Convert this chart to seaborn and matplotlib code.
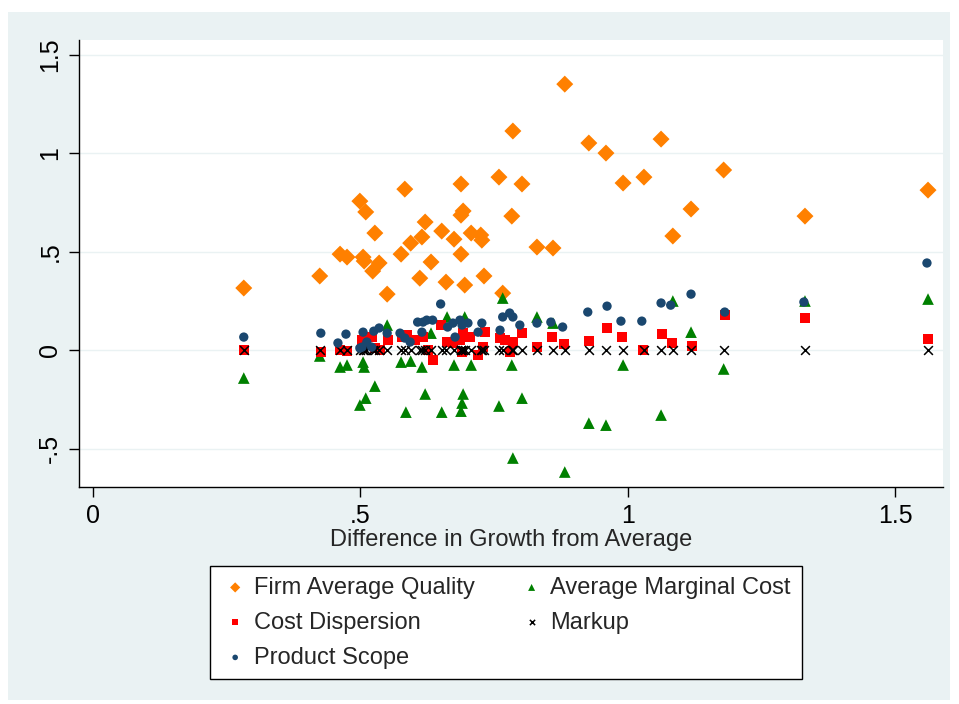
import matplotlib
matplotlib.use("Agg")
import matplotlib.pyplot as plt
import seaborn as sns
import numpy as np
from matplotlib.patches import Rectangle

# values (x = difference in growth from average)
quality_x = [0.282, 0.424, 0.462, 0.475, 0.499, 0.505, 0.507, 0.510, 0.523, 0.527,
             0.535, 0.550, 0.576, 0.583, 0.594, 0.611, 0.615, 0.621, 0.632, 0.652,
             0.660, 0.675, 0.688, 0.688, 0.692, 0.688, 0.695, 0.707, 0.725, 0.727,
             0.731, 0.759, 0.766, 0.783, 0.785, 0.802, 0.830, 0.860, 0.882, 0.927,
             0.959, 0.991, 1.030, 1.062, 1.084, 1.118, 1.179, 1.331, 1.561]
quality_y = [0.315, 0.376, 0.487, 0.472, 0.756, 0.472, 0.452, 0.701, 0.401, 0.594,
             0.442, 0.284, 0.487, 0.817, 0.543, 0.365, 0.574, 0.650, 0.447, 0.604,
             0.345, 0.563, 0.843, 0.685, 0.706, 0.487, 0.330, 0.594, 0.584, 0.558,
             0.376, 0.878, 0.289, 0.680, 1.112, 0.843, 0.523, 0.518, 1.350, 1.051,
             1.000, 0.848, 0.878, 1.071, 0.579, 0.716, 0.914, 0.680, 0.812]

mc_x = [0.282, 0.424, 0.462, 0.475, 0.499, 0.505, 0.507, 0.510, 0.527, 0.550,
        0.576, 0.585, 0.594, 0.615, 0.621, 0.632, 0.652, 0.662, 0.675, 0.688,
        0.690, 0.692, 0.695, 0.707, 0.759, 0.766, 0.783, 0.785, 0.802, 0.830,
        0.860, 0.882, 0.927, 0.959, 0.991, 1.062, 1.084, 1.118, 1.179, 1.331, 1.561]
mc_y = [-0.142, -0.030, -0.086, -0.076, -0.279, -0.061, -0.086, -0.244, -0.183, 0.127,
        -0.061, -0.315, -0.056, -0.086, -0.223, 0.086, -0.315, 0.168, -0.076, -0.310,
        -0.269, -0.223, 0.168, -0.076, -0.284, 0.264, -0.076, -0.548, -0.244, 0.168,
        0.137, -0.619, -0.371, -0.381, -0.076, -0.330, 0.249, 0.091, -0.096, 0.249, 0.259]

disp_x = [0.282, 0.426, 0.462, 0.475, 0.503, 0.505, 0.522, 0.527, 0.536, 0.551,
          0.577, 0.587, 0.602, 0.617, 0.626, 0.635, 0.650, 0.662, 0.673, 0.686,
          0.692, 0.690, 0.705, 0.720, 0.729, 0.733, 0.761, 0.770, 0.779, 0.785,
          0.802, 0.830, 0.858, 0.880, 0.927, 0.961, 0.989, 1.028, 1.064, 1.082,
          1.120, 1.181, 1.331, 1.561]
disp_y = [0.000, -0.010, 0.000, -0.005, 0.051, 0.015, 0.066, 0.010, 0.000, 0.051,
          0.066, 0.076, 0.051, 0.066, 0.000, -0.051, 0.127, 0.041, 0.036, 0.051,
          0.086, -0.010, 0.066, -0.025, 0.015, 0.091, 0.061, 0.051, -0.010, 0.041,
          0.086, 0.015, 0.066, 0.030, 0.046, 0.112, 0.066, 0.000, 0.081, 0.036,
          0.020, 0.178, 0.162, 0.056]

scope_x = [0.282, 0.426, 0.458, 0.473, 0.499, 0.503, 0.505, 0.512, 0.521, 0.525,
           0.535, 0.550, 0.574, 0.583, 0.593, 0.607, 0.615, 0.617, 0.624, 0.635,
           0.650, 0.663, 0.673, 0.677, 0.686, 0.690, 0.701, 0.720, 0.727, 0.761,
           0.766, 0.779, 0.785, 0.798, 0.830, 0.856, 0.878, 0.925, 0.961, 0.987,
           1.026, 1.062, 1.080, 1.118, 1.181, 1.329, 1.559]
scope_y = [0.066, 0.086, 0.036, 0.081, 0.010, 0.015, 0.091, 0.041, 0.015, 0.096,
           0.112, 0.086, 0.086, 0.061, 0.041, 0.142, 0.091, 0.142, 0.152, 0.152,
           0.234, 0.117, 0.137, 0.066, 0.152, 0.127, 0.137, 0.091, 0.137, 0.101,
           0.168, 0.188, 0.168, 0.127, 0.137, 0.142, 0.117, 0.193, 0.223, 0.147,
           0.147, 0.239, 0.228, 0.284, 0.193, 0.244, 0.442]

markup_x = quality_x
markup_y = [0.0] * len(quality_x)

sns.set_style("white")
plt.rcParams['font.family'] = ['Liberation Sans', 'DejaVu Sans']

fig = plt.figure(figsize=(9.59, 7.04), dpi=100)
fig.patch.set_facecolor("white")
# Stata style light blue-grey graph region
fig.patches.append(Rectangle((8 / 959, 1 - 700 / 704), 942 / 959, 688 / 704,
                             transform=fig.transFigure, facecolor="#EAF2F3",
                             edgecolor="none", zorder=-10))
ax = fig.add_axes([79 / 959, 1 - 487 / 704, 864 / 959, 447 / 704])
ax.set_facecolor("white")

sns.scatterplot(x=quality_x, y=quality_y, ax=ax, marker="D", s=75, color="#FF8000",
                edgecolor="none", linewidth=0, label="Firm Average Quality", zorder=3)
sns.scatterplot(x=mc_x, y=mc_y, ax=ax, marker="^", s=70, color="#008000",
                edgecolor="none", linewidth=0, label="Average Marginal Cost", zorder=3)
sns.scatterplot(x=disp_x, y=disp_y, ax=ax, marker="s", s=50, color="#FF0000",
                edgecolor="none", linewidth=0, label="Cost Dispersion", zorder=3)
sns.scatterplot(x=markup_x, y=markup_y, ax=ax, marker="x", s=40, color="black",
                linewidth=1.1, label="Markup", zorder=3)
sns.scatterplot(x=scope_x, y=scope_y, ax=ax, marker="o", s=45, color="#1A476F",
                edgecolor="none", linewidth=0, label="Product Scope", zorder=3)

ax.set_xlim(-0.026, 1.589)
ax.set_ylim(-0.695, 1.574)
ax.set_xticks([0, 0.5, 1, 1.5])
ax.set_xticklabels(["0", ".5", "1", "1.5"])
ax.set_yticks([-0.5, 0, 0.5, 1, 1.5])
ax.set_yticklabels(["-.5", "0", ".5", "1", "1.5"], rotation=90, va="center")
ax.tick_params(axis="both", direction="out", length=7, width=1, color="black",
               labelsize=18, labelcolor="black", pad=5, left=True, bottom=True)
ax.yaxis.grid(True, color="#EAF2F3", linewidth=1)
ax.xaxis.grid(False)
ax.set_axisbelow(True)
for side in ["top", "right"]:
    ax.spines[side].set_visible(False)
for side in ["left", "bottom"]:
    ax.spines[side].set_color("black")
    ax.spines[side].set_linewidth(1)

ax.set_xlabel("Difference in Growth from Average", fontsize=17, labelpad=1)
ax.set_ylabel("")

handles, labels = ax.get_legend_handles_labels()
order = [0, 2, 4, 1, 3]
ax.legend([handles[i] for i in order], [labels[i] for i in order], ncol=2,
          loc="upper center", bbox_to_anchor=(506 / 959, 1 - 566 / 704),
          bbox_transform=fig.transFigure, frameon=True, fancybox=False,
          edgecolor="black", facecolor="white", framealpha=1, fontsize=17,
          markerscale=0.6, handletextpad=0.2, columnspacing=1.8,
          labelspacing=0.55, borderpad=0.45, handlelength=1.2, borderaxespad=0)
ax.get_legend().get_frame().set_linewidth(1)

fig.savefig("out.png", dpi=100)
